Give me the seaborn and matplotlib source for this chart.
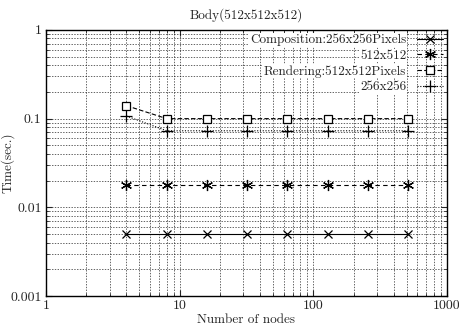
import matplotlib
matplotlib.use("Agg")
import matplotlib.pyplot as plt
import seaborn as sns
import numpy as np
from matplotlib.ticker import LogLocator, FixedLocator, NullFormatter

nodes = [4, 8, 16, 32, 64, 128, 256, 512]
comp_256 = [0.005, 0.005, 0.005, 0.005, 0.005, 0.005, 0.005, 0.005]
comp_512 = [0.018, 0.018, 0.018, 0.018, 0.018, 0.018, 0.018, 0.018]
rend_512 = [0.14, 0.1, 0.1, 0.1, 0.1, 0.1, 0.1, 0.1]
rend_256 = [0.107, 0.073, 0.073, 0.073, 0.073, 0.073, 0.073, 0.073]
labels = ["Composition:256x256Pixels", "512x512", "Rendering:512x512Pixels", "256x256"]
xticks = [1, 10, 100, 1000]
xticklabels = ["1", "10", "100", "1000"]
yticks = [0.001, 0.01, 0.1, 1]
yticklabels = ["0.001", "0.01", "0.1", "1"]

sns.set_style("ticks")
plt.rcParams["font.family"] = ["cmr10", "DejaVu Serif"]
plt.rcParams["axes.unicode_minus"] = False

fig = plt.figure(figsize=(4.59, 3.32), dpi=100)
ax = fig.add_axes([0.1, 0.108, 0.874, 0.802])

asterisk = (6, 2, 0)
styles = [
    dict(linestyle="-", marker="x", markersize=6, mfc="black"),
    dict(linestyle=(0, (4, 3)), marker=asterisk, markersize=8, mfc="black"),
    dict(linestyle=(0, (4, 2)), marker="s", markersize=6, mfc="white"),
    dict(linestyle=(0, (1, 1.5)), marker="+", markersize=8, mfc="black"),
]
series = [comp_256, comp_512, rend_512, rend_256]
for vals, lab, st in zip(series, labels, styles):
    sns.lineplot(x=nodes, y=vals, ax=ax, color="black", lw=0.8, label=lab,
                 mec="black", mew=0.9, **st)

ax.set_xscale("log")
ax.set_yscale("log")
ax.set_xlim(1, 1000)
ax.set_ylim(0.001, 1)
ax.xaxis.set_major_locator(FixedLocator(xticks))
ax.set_xticklabels(xticklabels)
ax.yaxis.set_major_locator(FixedLocator(yticks))
ax.set_yticklabels(yticklabels)
ax.xaxis.set_minor_locator(LogLocator(base=10, subs=np.arange(2, 10)))
ax.yaxis.set_minor_locator(LogLocator(base=10, subs=np.arange(2, 10)))
ax.xaxis.set_minor_formatter(NullFormatter())
ax.yaxis.set_minor_formatter(NullFormatter())
ax.grid(True, which="both", color="black", linestyle=(0, (2, 2)), linewidth=0.5, alpha=0.85)
ax.tick_params(which="both", direction="in", top=True, right=True, labelsize=10)
ax.tick_params(which="major", length=4, pad=3)
ax.tick_params(which="minor", length=2)
for s in ax.spines.values():
    s.set_linewidth(1.0)
    s.set_color("black")

ax.set_title("Body(512x512x512)", fontsize=9.5, pad=8)
ax.set_xlabel("Number of nodes", fontsize=9.5, labelpad=1)
ax.set_ylabel("Time(sec.)", fontsize=9.5)
ax.yaxis.set_label_coords(-0.078, 0.5)

leg = ax.legend(loc="upper right", markerfirst=False, frameon=False, fontsize=9.5,
                handlelength=2.0, labelspacing=0.25, borderaxespad=0.1, borderpad=0.2)
for t in leg.get_texts():
    t.set_bbox(dict(facecolor="white", edgecolor="none", pad=0.5))

fig.savefig("out.png", dpi=100)
